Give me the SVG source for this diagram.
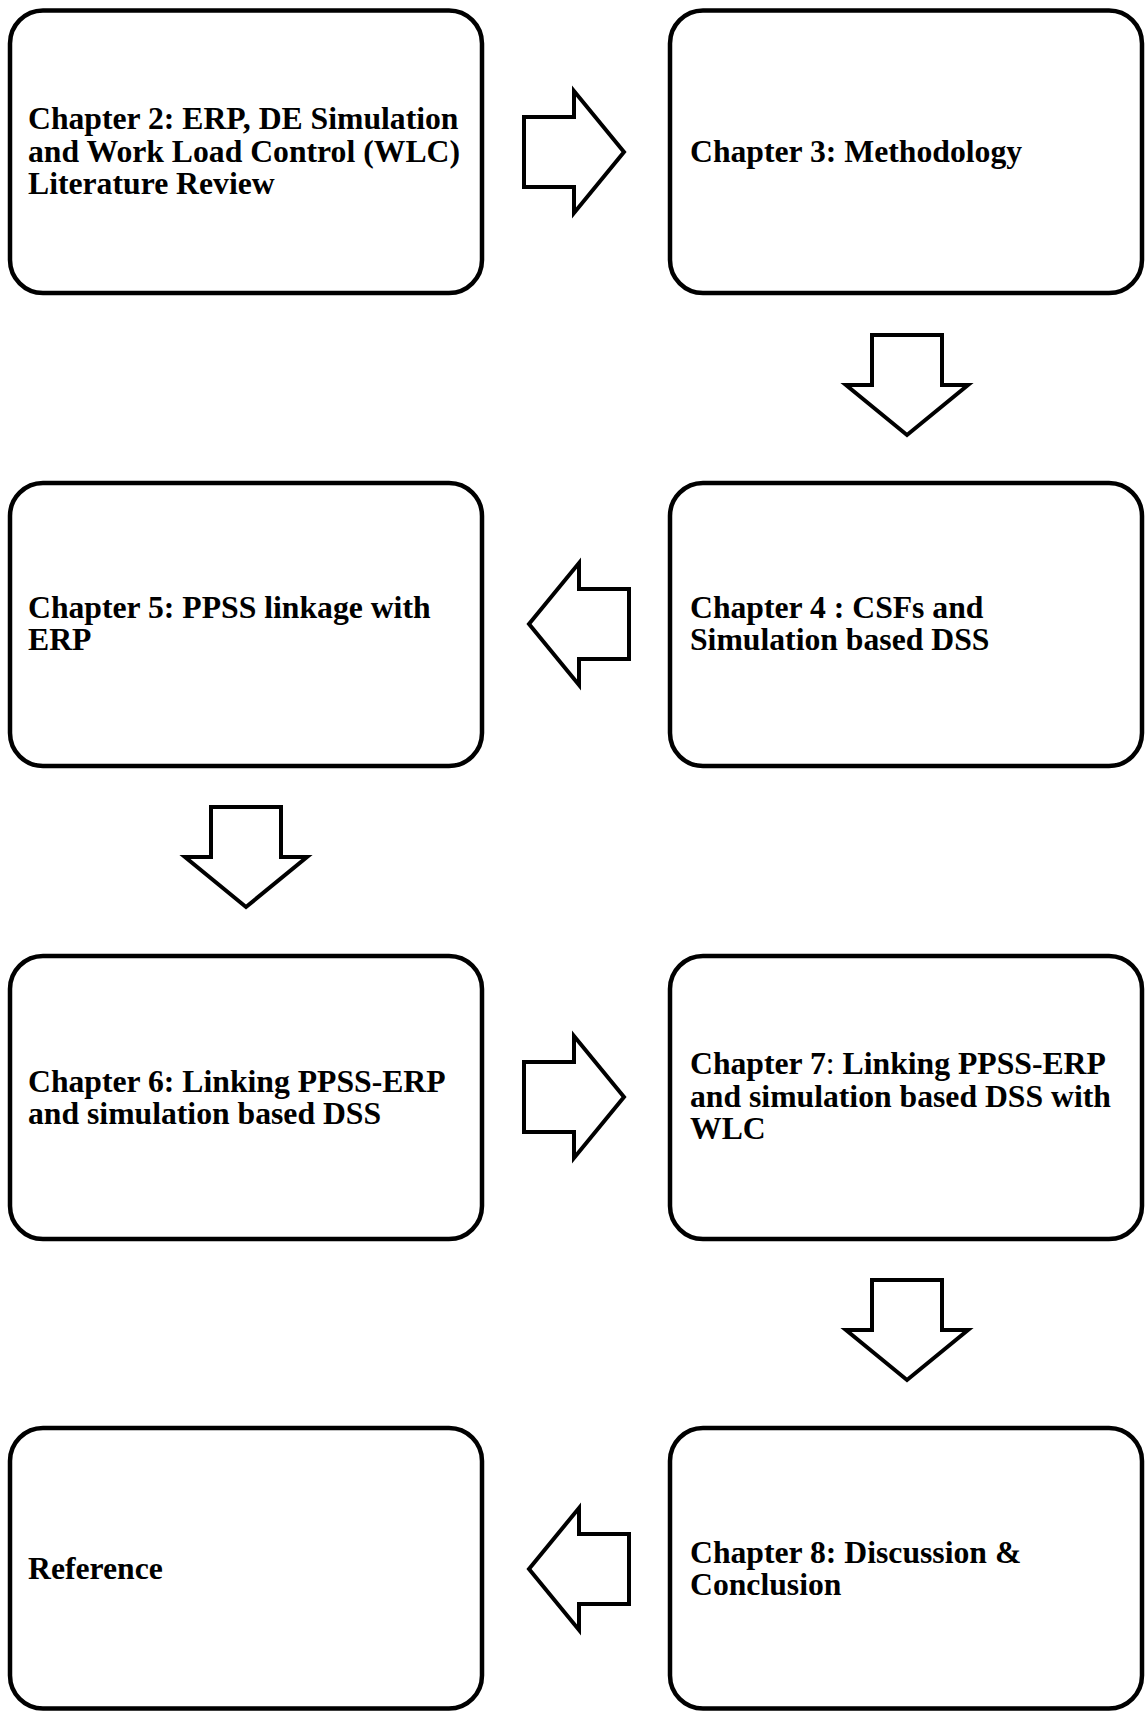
<svg xmlns="http://www.w3.org/2000/svg" xmlns:xlink="http://www.w3.org/1999/xlink" width="1147" height="1711" viewBox="0 0 1147 1711">
  <style>
    .box { fill: #ffffff; stroke: #000000; stroke-width: 4.5; }
    .arrow { fill: #ffffff; stroke: #000000; stroke-width: 4; stroke-linejoin: miter; }
    .label { font-family: "Liberation Serif", "Times New Roman", serif; font-weight: bold; font-size: 31.7px; fill: #000000; }
    .plain { font-weight: normal; }
  </style>
  <defs>
    <!-- block arrow pointing right, centred on its shaft/head joint -->
    <path id="blockArrow" d="M -50 -35 L 0 -35 L 0 -61 L 50 0 L 0 61 L 0 35 L -50 35 Z"/>
  </defs>

  <rect width="1147" height="1711" fill="#ffffff"/>

  <g id="connectors">
    <use xlink:href="#blockArrow" class="arrow" transform="translate(574,152)"/>
    <use xlink:href="#blockArrow" class="arrow" transform="translate(907,385) rotate(90)"/>
    <use xlink:href="#blockArrow" class="arrow" transform="translate(579,624) rotate(180)"/>
    <use xlink:href="#blockArrow" class="arrow" transform="translate(246,857) rotate(90)"/>
    <use xlink:href="#blockArrow" class="arrow" transform="translate(574,1097) rotate(0)"/>
    <use xlink:href="#blockArrow" class="arrow" transform="translate(907,1330) rotate(90)"/>
    <use xlink:href="#blockArrow" class="arrow" transform="translate(579,1569) rotate(180)"/>
  </g>

  <g id="ch2">
    <rect class="box" x="10" y="10.5" width="472" height="282.5" rx="33" ry="33"/>
    <text class="label" x="28" y="129">Chapter 2: ERP, DE Simulation</text>
    <text class="label" x="28" y="161.5">and Work Load Control (WLC)</text>
    <text class="label" x="28" y="194">Literature Review</text>
  </g>

  <g id="ch3">
    <rect class="box" x="670" y="10.5" width="472" height="282.5" rx="33" ry="33"/>
    <text class="label" x="690" y="161.5">Chapter 3: Methodology</text>
  </g>

  <g id="ch5">
    <rect class="box" x="10" y="483" width="472" height="283" rx="33" ry="33"/>
    <text class="label" x="28" y="617.5">Chapter 5: PPSS linkage with</text>
    <text class="label" x="28" y="650">ERP</text>
  </g>

  <g id="ch4">
    <rect class="box" x="670" y="483" width="472" height="283" rx="33" ry="33"/>
    <text class="label" x="690" y="617.5">Chapter 4 : CSFs and</text>
    <text class="label" x="690" y="650">Simulation based DSS</text>
  </g>

  <g id="ch6">
    <rect class="box" x="10" y="956" width="472" height="283" rx="33" ry="33"/>
    <text class="label" x="28" y="1091.5">Chapter 6: Linking PPSS-ERP</text>
    <text class="label" x="28" y="1124">and simulation based DSS</text>
  </g>

  <g id="ch7">
    <rect class="box" x="670" y="956" width="472" height="283" rx="33" ry="33"/>
    <text class="label" x="690" y="1074">Chapter 7<tspan class="plain">:</tspan> Linking PPSS-ERP</text>
    <text class="label" x="690" y="1106.5">and simulation based DSS with</text>
    <text class="label" x="690" y="1139">WLC</text>
  </g>

  <g id="reference">
    <rect class="box" x="10" y="1428" width="472" height="280.5" rx="33" ry="33"/>
    <text class="label" x="28" y="1579">Reference</text>
  </g>

  <g id="ch8">
    <rect class="box" x="670" y="1428" width="472" height="280.5" rx="33" ry="33"/>
    <text class="label" x="690" y="1562.5">Chapter 8: Discussion &amp;</text>
    <text class="label" x="690" y="1595">Conclusion</text>
  </g>
</svg>
